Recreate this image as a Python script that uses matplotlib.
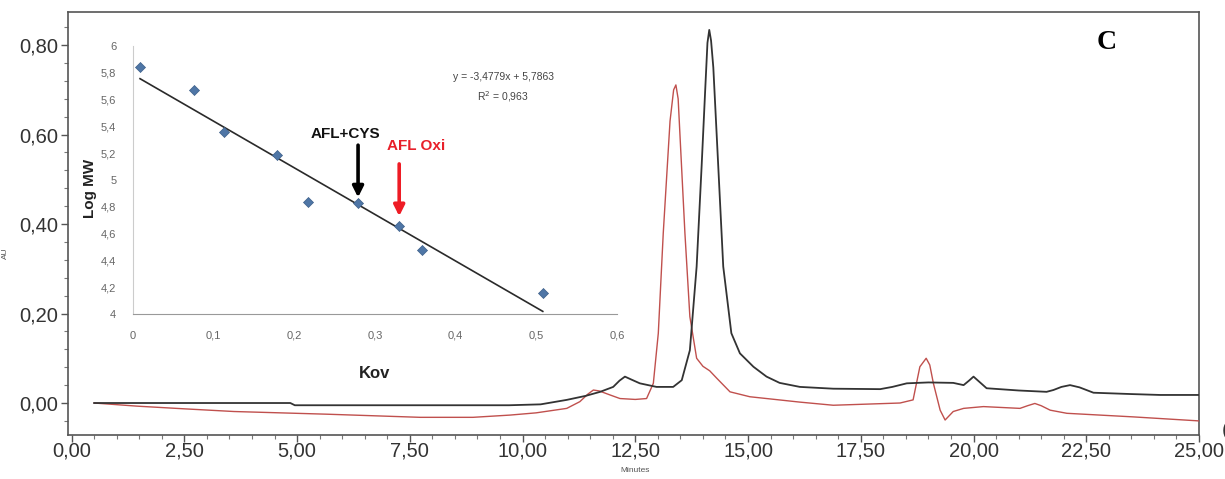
import matplotlib
matplotlib.use("Agg")
import matplotlib.pyplot as plt
from matplotlib.ticker import MultipleLocator, FuncFormatter
from matplotlib import font_manager

# ---------------- data ----------------
# Chromatogram (minutes, AU)
black_t = [0.5, 2.0, 4.85, 4.95, 7.0, 9.7, 10.4, 10.98, 11.4, 11.72, 12.01, 12.15, 12.27, 12.4,
           12.6, 12.97, 13.34, 13.53, 13.71, 13.86, 13.97, 14.05, 14.10, 14.14, 14.18, 14.23,
           14.34, 14.45, 14.63, 14.82, 15.12, 15.41, 15.7, 16.15, 16.89, 17.93, 18.2, 18.52,
           19.0, 19.55, 19.78, 19.9, 20.0, 20.1, 20.29, 21.0, 21.62, 21.77, 21.95, 22.14,
           22.35, 22.66, 23.5, 24.14, 25.0]
black_au = [0.000, 0.000, 0.000, -0.005, -0.005, -0.005, -0.003, 0.007, 0.016, 0.025, 0.036,
            0.050, 0.059, 0.053, 0.044, 0.036, 0.036, 0.051, 0.118, 0.305, 0.528, 0.700, 0.805,
            0.834, 0.810, 0.750, 0.528, 0.305, 0.156, 0.111, 0.081, 0.059, 0.045, 0.036, 0.032,
            0.031, 0.036, 0.044, 0.046, 0.045, 0.040, 0.050, 0.059, 0.050, 0.033, 0.028, 0.025,
            0.029, 0.036, 0.040, 0.035, 0.023, 0.020, 0.018, 0.018]

red_t = [0.5, 1.45, 2.5, 3.6, 5.66, 7.73, 8.9, 9.72, 10.3, 10.98, 11.27, 11.45, 11.57, 11.7,
         11.94, 12.16, 12.5, 12.75, 12.90, 13.01, 13.12, 13.27, 13.35, 13.40, 13.45, 13.49,
         13.60, 13.71, 13.86, 14.0, 14.15, 14.31, 14.6, 15.04, 16.15, 16.89, 18.37, 18.66,
         18.81, 18.95, 19.03, 19.11, 19.26, 19.37, 19.55, 19.78, 20.22, 21.03, 21.2, 21.36,
         21.5, 21.70, 22.07, 23.54, 25.0]
red_au = [0.000, -0.007, -0.013, -0.019, -0.025, -0.032, -0.032, -0.027, -0.022, -0.012, 0.003,
          0.020, 0.029, 0.027, 0.018, 0.010, 0.008, 0.010, 0.044, 0.156, 0.380, 0.630, 0.700,
          0.711, 0.680, 0.600, 0.380, 0.193, 0.100, 0.082, 0.072, 0.055, 0.025, 0.014, 0.002,
          -0.005, 0.000, 0.007, 0.081, 0.100, 0.085, 0.044, -0.016, -0.038, -0.019, -0.012,
          -0.008, -0.012, -0.006, -0.001, -0.006, -0.016, -0.023, -0.031, -0.040]

main_xticks = [0, 2.5, 5, 7.5, 10, 12.5, 15, 17.5, 20, 22.5, 25]
main_yticks = [0.0, 0.2, 0.4, 0.6, 0.8]

# Calibration inset (Kov, Log MW)
kov = [0.0087, 0.0756, 0.113, 0.178, 0.217, 0.279, 0.330, 0.358, 0.508]
logmw = [5.846, 5.672, 5.36, 5.19, 4.838, 4.826, 4.657, 4.478, 4.154]
slope, intercept = -3.4779, 5.7863
inset_xticks = [0, 0.1, 0.2, 0.3, 0.4, 0.5, 0.6]
inset_yticks = [4, 4.2, 4.4, 4.6, 4.8, 5, 5.2, 5.4, 5.6, 5.8, 6]

# ---------------- fonts ----------------
avail = {f.name for f in font_manager.fontManager.ttflist}
tick_font = "Liberation Sans Narrow" if "Liberation Sans Narrow" in avail else "Liberation Sans"
tick_size = 17.5 if tick_font == "Liberation Sans Narrow" else 14.5
plt.rcParams["font.family"] = ["Liberation Sans", "DejaVu Sans"]

def comma_fmt(nd):
    def f(v, pos):
        return f"{v:.{nd}f}".replace(".", ",")
    return f

def inset_fmt(v, pos):
    s = f"{v:.1f}".rstrip("0").rstrip(".")
    return s.replace(".", ",")

fig = plt.figure(figsize=(12.25, 4.79), dpi=100)

# ---------------- main chromatogram ----------------
ax = fig.add_axes([68 / 1225, 1 - 435 / 479, (1199 - 68) / 1225, (435 - 12) / 479])
ax.plot(red_t, red_au, color="#c0504d", lw=1.0, zorder=3)
ax.plot(black_t, black_au, color="#333333", lw=1.3, zorder=4)
ax.set_xlim(-0.08, 25.0)
ax.set_ylim(-0.0715, 0.874)
ax.set_xticks(main_xticks)
ax.set_yticks(main_yticks)
ax.xaxis.set_minor_locator(MultipleLocator(0.5))
ax.yaxis.set_minor_locator(MultipleLocator(0.04))
ax.xaxis.set_major_formatter(FuncFormatter(comma_fmt(2)))
ax.yaxis.set_major_formatter(FuncFormatter(comma_fmt(2)))
ax.tick_params(axis="both", which="major", direction="out", length=5, width=1,
               color="#555555", labelcolor="#333333", labelsize=tick_size, pad=2)
ax.tick_params(axis="x", which="major", pad=0)
ax.tick_params(axis="both", which="minor", direction="out", length=3, width=0.8, color="#777777")
for lab in ax.get_xticklabels() + ax.get_yticklabels():
    lab.set_fontfamily(tick_font)
for s in ax.spines.values():
    s.set_color("#555555")
    s.set_linewidth(1.2)
ax.set_xlabel("Minutes", fontsize=6, color="#555555", labelpad=0)
ax.xaxis.set_label_coords((635 - 68) / (1199 - 68), -0.075)
ax.set_ylabel("AU", fontsize=6, color="#555555")
ax.yaxis.set_label_coords(-0.052, 0.43)

ax.text(0.918, 0.927, "C", transform=ax.transAxes, fontsize=20,
        fontweight="bold", family="Liberation Serif", ha="center", va="center", color="black")
fig.text(0.9975, 1 - 430 / 479, "(", fontsize=15, color="#333333", ha="left", va="center")

# ---------------- inset calibration plot ----------------
ins = fig.add_axes([133 / 1225, 1 - 314 / 479, (617 - 133) / 1225, (314 - 46) / 479])
ins.patch.set_alpha(0)
ins.scatter(kov, logmw, marker="D", s=26, color="#4f76a6", edgecolors="#3d5f88",
            linewidths=0.5, zorder=3)
xs = [kov[0], kov[-1]]
ins.plot(xs, [slope * v + intercept for v in xs], color="#2a2a2a", lw=1.2, zorder=2)
ins.set_xlim(0, 0.6)
ins.set_ylim(4, 6)
ins.set_xticks(inset_xticks)
ins.set_yticks(inset_yticks)
ins.xaxis.set_major_formatter(FuncFormatter(inset_fmt))
ins.yaxis.set_major_formatter(FuncFormatter(inset_fmt))
ins.tick_params(axis="both", length=0, labelsize=8, labelcolor="#666666")
ins.tick_params(axis="x", pad=12)
ins.tick_params(axis="y", pad=12)
ins.spines["top"].set_visible(False)
ins.spines["right"].set_visible(False)
ins.spines["left"].set_color("#cccccc")
ins.spines["bottom"].set_color("#999999")
ins.set_xlabel("Kov", fontsize=12, fontweight="bold", color="#222222", labelpad=18)
ins.set_ylabel("Log MW", fontsize=11, fontweight="bold", color="#222222", labelpad=4)
ins.yaxis.set_label_coords(-0.075, 0.47)

ins.annotate("", xy=(0.279, 4.87), xytext=(0.279, 5.26),
             arrowprops=dict(arrowstyle="-|>", color="black", lw=2.6, mutation_scale=16,
                             shrinkA=0, shrinkB=0))
ins.text(0.263, 5.345, "AFL+CYS", fontsize=11, fontweight="bold", color="#111111",
         ha="center", va="center")
ins.annotate("", xy=(0.330, 4.73), xytext=(0.330, 5.12),
             arrowprops=dict(arrowstyle="-|>", color="#ee1c25", lw=2.6, mutation_scale=16,
                             shrinkA=0, shrinkB=0))
ins.text(0.351, 5.255, "AFL Oxi", fontsize=11, fontweight="bold", color="#e8202a",
         ha="center", va="center")
ins.text(0.459, 5.765, "y = -3,4779x + 5,7863", fontsize=7.5, color="#444444",
         ha="center", va="center")
ins.text(0.459, 5.62, "R$^2$ = 0,963", fontsize=7.5, color="#444444", ha="center", va="center")

fig.savefig("out.png", dpi=100)
